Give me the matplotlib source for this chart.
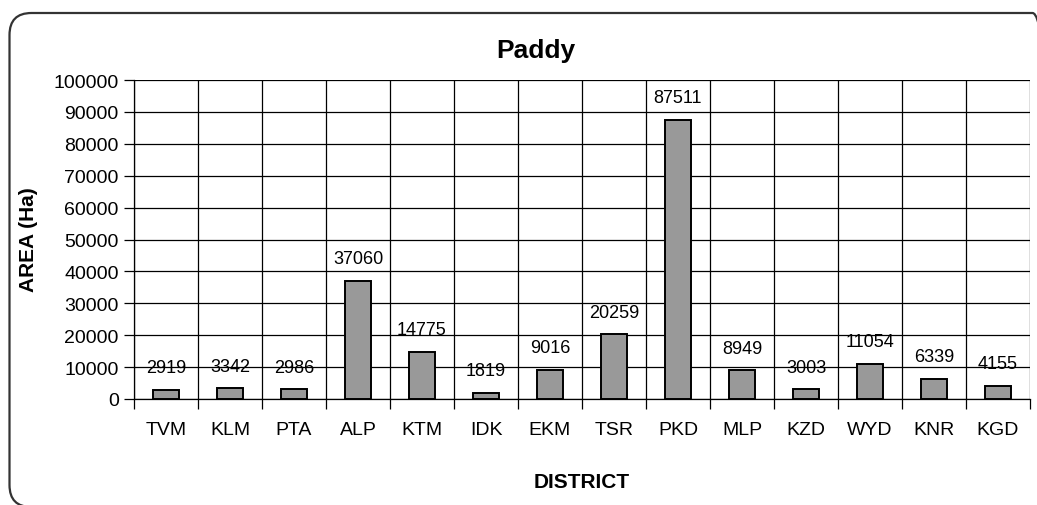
import matplotlib
matplotlib.use("Agg")
import matplotlib.pyplot as plt
from matplotlib.patches import FancyBboxPatch
from matplotlib.transforms import IdentityTransform
import numpy as np

districts = ["TVM", "KLM", "PTA", "ALP", "KTM", "IDK", "EKM", "TSR", "PKD", "MLP", "KZD", "WYD", "KNR", "KGD"]
area = [2919, 3342, 2986, 37060, 14775, 1819, 9016, 20259, 87511, 8949, 3003, 11054, 6339, 4155]
yticks = list(range(0, 100001, 10000))

plt.rcParams['font.family'] = ['Liberation Sans', 'DejaVu Sans']

W, H = 1037, 506
fig = plt.figure(figsize=(W/100, H/100), dpi=100)
ax = fig.add_axes([134/W, 1 - 400/H, (1030-134)/W, (400-81)/H])

x = np.arange(len(districts))
ax.bar(x, area, width=0.42, color='#999999', edgecolor='black', linewidth=1.4, zorder=3)
for xi, v in zip(x, area):
    ax.text(xi, v + 7000, str(v), ha='center', va='center', fontsize=13, zorder=4)

ax.set_xlim(-0.5, len(districts) - 0.5)
ax.set_ylim(0, 100000)
ax.set_yticks(yticks)
ax.set_yticklabels([str(t) for t in yticks], fontsize=14)
ax.set_xticks(x)
ax.set_xticklabels(districts, fontsize=14)
ax.set_xticks(np.arange(-0.5, len(districts)), minor=True)
ax.tick_params(axis='x', which='major', length=0, pad=16)
ax.tick_params(axis='x', which='minor', length=7, width=0.9, color='black')
ax.tick_params(axis='y', which='major', length=7, width=0.9, pad=4)
ax.grid(True, axis='y', which='major', color='black', linewidth=0.9, zorder=0)
ax.grid(True, axis='x', which='minor', color='black', linewidth=0.9, zorder=0)
for s in ['top', 'right']:
    ax.spines[s].set_visible(False)
ax.spines['left'].set_linewidth(0.9)
ax.spines['bottom'].set_linewidth(0.9)

fig.text(536/W, 1 - 51/H, 'Paddy', fontsize=19, fontweight='bold', ha='center', va='center')
fig.text(28/W, 1 - 240/H, 'AREA (Ha)', fontsize=15, fontweight='bold', ha='center', va='center', rotation=90)
fig.text(582/W, 1 - 483/H, 'DISTRICT', fontsize=15, fontweight='bold', ha='center', va='center')

border = FancyBboxPatch((9.5, -2), 1045, 494,
                        boxstyle="round,pad=0,rounding_size=22",
                        transform=IdentityTransform(), fill=False,
                        edgecolor='#333333', linewidth=1.6)
fig.patches.append(border)

fig.savefig('out.png', dpi=100)
